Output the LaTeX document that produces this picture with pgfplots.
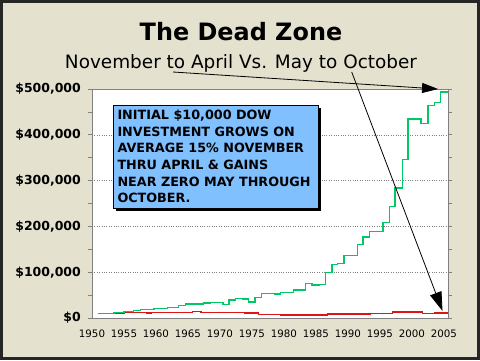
\documentclass[border=0pt]{standalone}
\usepackage{pgfplots}
\pgfplotsset{compat=1.18}
\usepackage{fontspec}
\setmainfont{DejaVu Sans}
\usetikzlibrary{arrows.meta}
\definecolor{bgbeige}{RGB}{228,225,206}
\definecolor{boxblue}{RGB}{128,192,255}
\definecolor{lgreen}{RGB}{0,200,100}
\definecolor{lred}{RGB}{220,20,20}
\definecolor{axgray}{RGB}{128,128,128}
\pgfplotstableread{
x y
1950.90 10000
1953.40 11500
1955.00 14500
1956.50 16700
1957.60 19000
1959.70 21000
1961.80 23000
1963.50 27500
1964.60 30400
1967.40 33000
1968.50 34000
1970.50 29000
1971.40 39000
1972.40 43000
1973.50 41000
1974.50 35000
1975.50 45000
1976.50 53000
1978.50 52000
1979.50 56000
1981.50 61000
1983.40 75000
1984.40 72000
1985.60 73000
1986.50 99000
1987.50 117000
1988.40 119000
1989.40 136000
1991.50 161000
1992.40 177000
1993.40 189000
1995.50 208000
1996.50 244000
1997.40 284000
1998.50 346000
1999.40 435000
2001.40 425000
2002.50 464000
2003.50 470000
2004.50 494000
2005.65 494000
}\greendata
\pgfplotstableread{
x y
1950.90 9500
1955.00 12300
1958.60 11000
1959.20 12300
1965.70 14000
1967.00 12300
1970.60 11500
1972.30 12300
1973.80 10500
1976.00 8000
1979.50 6500
1981.50 7000
1986.80 8700
1993.50 10000
1997.00 13500
2001.70 10000
2003.50 11000
2005.65 11000
}\reddata
\begin{document}
\begin{tikzpicture}[x=1bp,y=1bp]
\fill[bgbeige] (0,0) rectangle (480,-360);
\useasboundingbox (0,0) rectangle (480,-360);
\draw[black!85, line width=3bp] (1.5,-1.5) rectangle (478.5,-358.5);
\node[anchor=base, font=\fontsize{24}{28}\selectfont\bfseries, inner sep=0] at (241,-40) {The Dead Zone};
\node[anchor=base, font=\fontsize{18.5}{22}\selectfont, inner sep=0] at (241,-68.3) {November to April Vs. May to October};
\begin{axis}[
  at={(92bp,-318bp)}, anchor=south west,
  scale only axis, width=356bp, height=229bp,
  xmin=1950, xmax=2005.65, ymin=0, ymax=500000,
  axis background/.style={fill=white},
  axis line style={axgray, line width=1bp},
  xtick={1950,1955,1960,1965,1970,1975,1980,1985,1990,1995,2000,2005},
  xticklabels={1950,1955,1960,1965,1970,1975,1980,1985,1990,1995,2000,2005},
  xtick style={draw=none},
  ytick={0,100000,200000,300000,400000,500000},
  yticklabels={\$0,{\$100,000},{\$200,000},{\$300,000},{\$400,000},{\$500,000}},
  minor ytick={50000,150000,250000,350000,450000},
  tick align=outside, major tick length=4bp, minor tick length=4bp,
  ytick style={axgray, line width=0.8bp},
  ymajorgrids, major y grid style={axgray, dotted, line width=0.6bp},
  yticklabel style={font=\fontsize{12.5}{14}\selectfont\bfseries, anchor=east, inner sep=0pt, xshift=-7bp},
  xticklabel style={font=\fontsize{10.3}{12}\selectfont, anchor=north, inner sep=0pt, yshift=-8bp},
  scaled y ticks=false,
]
\addplot[const plot, draw=lred, line width=1.5bp] table[x=x,y=y] {\reddata};
\addplot[const plot, draw=lgreen, line width=1.5bp] table[x=x,y=y] {\greendata};
\end{axis}
\fill[black] (116,-107.7) rectangle (321,-211);
\filldraw[fill=boxblue, draw=black, line width=1bp] (113.3,-105) rectangle (318.3,-208.3);
\begin{scope}[every node/.style={anchor=base west, inner sep=0, font=\fontsize{12.8}{15}\selectfont\bfseries}]
\node at (117.3,-119.3) {INITIAL \$10,000 DOW};
\node at (117.3,-136) {INVESTMENT GROWS ON};
\node at (117.3,-152.7) {AVERAGE 15\% NOVEMBER};
\node at (117.3,-169.3) {THRU APRIL \& GAINS};
\node at (117.3,-186) {NEAR ZERO MAY THROUGH};
\node at (117.3,-202.7) {OCTOBER.};
\end{scope}
\draw[black, line width=0.8bp, -{Triangle[length=16bp,width=10bp]}] (173,-72) -- (438,-89);
\draw[black, line width=0.8bp, -{Triangle[length=19bp,width=12bp]}] (351.7,-72) -- (442.5,-311);
\end{tikzpicture}
\end{document}
